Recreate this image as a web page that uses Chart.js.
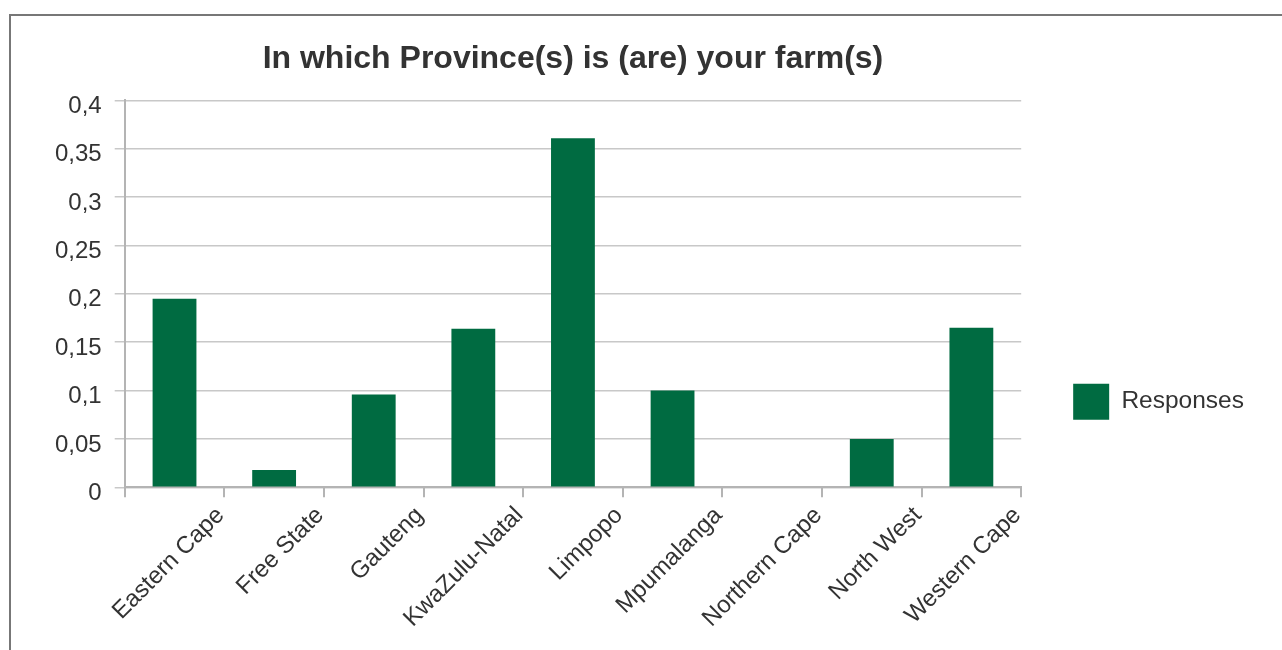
<!DOCTYPE html>
<html>
<head>
<meta charset="utf-8">
<script src="https://cdn.jsdelivr.net/npm/chart.js@4/dist/chart.umd.min.js"></script>
<style>
    html, body { margin: 0; padding: 0; background: #fff; overflow: hidden; }
    .frame { position: absolute; left: 9px; top: 14px; width: 1400px; height: 800px; border: 2px solid #777; }
    .wrap { position: absolute; left: 0; top: 0; width: 1282px; height: 650px; }
</style>
</head>
<body>
<div class="frame"></div>
<div class="wrap"><canvas id="provinceChart"></canvas></div>
<script>
    const provinces = ['Eastern Cape', 'Free State', 'Gauteng', 'KwaZulu-Natal', 'Limpopo',
        'Mpumalanga', 'Northern Cape', 'North West', 'Western Cape'];
    const responses = [0.195, 0.018, 0.096, 0.164, 0.361, 0.100, 0, 0.050, 0.165];
    const yTickLabels = ['0', '0,05', '0,1', '0,15', '0,2', '0,25', '0,3', '0,35', '0,4'];

    const fontFamily = "'Liberation Sans', Arial, sans-serif";
    const textColor = '#333333';

    document.addEventListener('DOMContentLoaded', function () {
        const ctx = document.getElementById('provinceChart').getContext('2d');

        new Chart(ctx, {
            type: 'bar',
            data: {
                labels: provinces,
                datasets: [{
                    label: 'Responses',
                    data: responses,
                    backgroundColor: '#006b41',
                    borderWidth: 0,
                    categoryPercentage: 1,
                    barPercentage: 0.44
                }]
            },
            options: {
                responsive: true,
                maintainAspectRatio: false,
                animation: false,
                layout: {
                    // left margin is driven by the rotated first x label
                    padding: { left: 42, right: 28, top: 0, bottom: 13 }
                },
                plugins: {
                    title: {
                        display: true,
                        text: 'In which Province(s) is (are) your farm(s)',
                        fullSize: false,
                        color: textColor,
                        font: { family: fontFamily, size: 32, weight: 'bold' },
                        padding: { top: 40, bottom: 22 }
                    },
                    legend: {
                        position: 'right',
                        // empty title only pushes the legend item down
                        title: {
                            display: true,
                            text: ' ',
                            font: { size: 12 },
                            padding: { top: 152, bottom: 0 }
                        },
                        labels: {
                            boxWidth: 36,
                            boxHeight: 36,
                            padding: 52,
                            color: textColor,
                            font: { family: fontFamily, size: 24.5 }
                        }
                    },
                    tooltip: { enabled: false }
                },
                scales: {
                    y: {
                        min: 0,
                        max: 0.4,
                        ticks: {
                            stepSize: 0.05,
                            padding: 13,
                            labelOffset: 6,
                            color: textColor,
                            font: { family: fontFamily, size: 24 },
                            callback: (value, index) => yTickLabels[index]
                        },
                        grid: {
                            color: '#c8c8c8',
                            lineWidth: 1.5,
                            tickLength: 10
                        },
                        border: { color: '#b4b4b4', width: 2 }
                    },
                    x: {
                        ticks: {
                            minRotation: 45,
                            maxRotation: 45,
                            labelOffset: 46,
                            padding: 4,
                            color: textColor,
                            font: { family: fontFamily, size: 24 }
                        },
                        grid: {
                            drawOnChartArea: false,
                            color: '#b4b4b4',
                            lineWidth: 2,
                            tickLength: 10
                        },
                        border: { color: '#b4b4b4', width: 2 }
                    }
                }
            }
        });
    });
</script>
</body>
</html>
